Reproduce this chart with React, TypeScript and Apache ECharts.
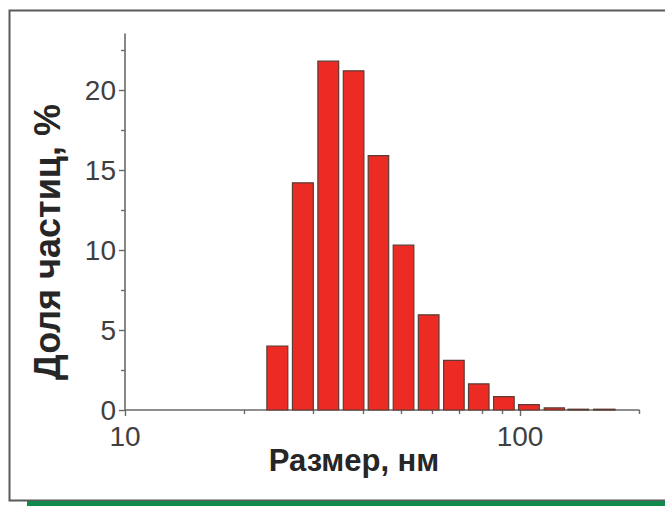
import React, { useEffect, useRef } from "react";
import * as echarts from "echarts";

// Particle size bins (nm, bin centres on log scale) and fraction of particles (%)
const sizes: number[] = [24.3, 28.2, 32.7, 37.9, 43.8, 50.7, 58.7, 68.0, 78.6, 91.0, 105.3, 122.1, 140.4, 163.4];
const shares: number[] = [4.0, 14.2, 21.8, 21.2, 15.9, 10.3, 5.95, 3.1, 1.63, 0.83, 0.33, 0.13, 0.05, 0.05];

const xMin = 10;
const xMax = 200;
const xMajorTicks: number[] = [10, 100];
const xMinorTicks: number[] = [20, 30, 40, 50, 60, 70, 80, 90, 200];
const yMin = 0;
const yMax = 23.5;
const yMajorTicks: number[] = [0, 5, 10, 15, 20];
const yMinorTicks: number[] = [2.5, 7.5, 12.5, 17.5, 22.5];

const xTitle = "Размер, нм";
const yTitle = "Доля частиц, %";

export default function App() {
  const ref = useRef<HTMLDivElement>(null);
  useEffect(() => {
    if (!ref.current) return;
    const chart = echarts.init(ref.current, null, { renderer: "svg" });
    const logs = sizes.map((s) => Math.log10(s));
    const data = logs.map((l, i) => {
      const prev = i > 0 ? l - logs[i - 1] : logs[i + 1] - l;
      const next = i < logs.length - 1 ? logs[i + 1] - l : l - logs[i - 1];
      const step = (prev + next) / 2;
      return [l, step * 0.41, shares[i]];
    });
    const axisColor = "#6a6a6a";
    const labelFont = "'Liberation Sans', Arial, sans-serif";
    chart.setOption({
      animation: false,
      backgroundColor: "#ffffff",
      grid: { left: 125, top: 34, right: 26, bottom: 96, containLabel: false },
      xAxis: [
        {
          type: "value",
          min: Math.log10(xMin),
          max: Math.log10(xMax),
          axisLine: { show: true, onZero: false, lineStyle: { color: axisColor, width: 1.6 } },
          axisTick: { show: true, customValues: xMajorTicks.map((v) => Math.log10(v)), length: 6, lineStyle: { color: axisColor, width: 1.4 } },
          axisLabel: {
            show: true,
            customValues: xMajorTicks.map((v) => Math.log10(v)),
            formatter: (v: number) => String(Math.round(Math.pow(10, v))),
            fontSize: 28,
            color: "#3f3f3f",
            fontFamily: labelFont,
            margin: 12,
          },
          splitLine: { show: false },
        },
        {
          type: "value",
          position: "bottom",
          min: Math.log10(xMin),
          max: Math.log10(xMax),
          axisLine: { show: false, onZero: false },
          axisTick: { show: true, customValues: xMinorTicks.map((v) => Math.log10(v)), length: 4, lineStyle: { color: axisColor, width: 1.4 } },
          axisLabel: { show: false },
          splitLine: { show: false },
        },
      ],
      yAxis: [
        {
          type: "value",
          min: yMin,
          max: yMax,
          axisLine: { show: true, onZero: false, lineStyle: { color: axisColor, width: 1.6 } },
          axisTick: { show: true, customValues: yMajorTicks, length: 6, lineStyle: { color: axisColor, width: 1.4 } },
          axisLabel: {
            show: true,
            customValues: yMajorTicks,
            fontSize: 28,
            color: "#3f3f3f",
            fontFamily: labelFont,
            margin: 9,
          },
          splitLine: { show: false },
        },
        {
          type: "value",
          position: "left",
          min: yMin,
          max: yMax,
          axisLine: { show: false, onZero: false },
          axisTick: { show: true, customValues: yMinorTicks, length: 4, lineStyle: { color: axisColor, width: 1.4 } },
          axisLabel: { show: false },
          splitLine: { show: false },
        },
      ],
      graphic: [
        {
          type: "rect",
          silent: true,
          z: -10,
          shape: { x: 9.5, y: 10.5, width: 700, height: 490 },
          style: { fill: "none", stroke: "#5a5a5a", lineWidth: 2 },
        },
        {
          type: "rect",
          silent: true,
          shape: { x: 27, y: 501, width: 640, height: 6 },
          style: { fill: "#11894d" },
        },
        {
          type: "text",
          x: 354,
          y: 460,
          style: {
            text: xTitle,
            fontSize: 31,
            fontWeight: "bold",
            fontFamily: labelFont,
            fill: "#262626",
            align: "center",
            verticalAlign: "middle",
          },
        },
        {
          type: "text",
          x: 47,
          y: 242,
          rotation: Math.PI / 2,
          style: {
            text: yTitle,
            fontSize: 36,
            fontWeight: "bold",
            fontFamily: labelFont,
            fill: "#262626",
            align: "center",
            verticalAlign: "middle",
          },
        },
      ],
      series: [
        {
          type: "custom",
          xAxisIndex: 0,
          yAxisIndex: 0,
          encode: { x: 0, y: 2 },
          data,
          renderItem: (params: any, api: any) => {
            const c = api.value(0);
            const hw = api.value(1);
            const v = api.value(2);
            const p0 = api.coord([c - hw, v]);
            const p1 = api.coord([c + hw, 0]);
            return {
              type: "rect",
              shape: { x: p0[0], y: p0[1], width: p1[0] - p0[0], height: p1[1] - p0[1] },
              style: { fill: "#ec2b24", stroke: "#5b3b33", lineWidth: 1.2 },
            };
          },
        },
      ],
    });
    return () => chart.dispose();
  }, []);
  return (
    <div
      ref={ref}
      style={{ position: "fixed", left: 0, top: 0, width: 665, height: 506, background: "#fff" }}
    />
  );
}
